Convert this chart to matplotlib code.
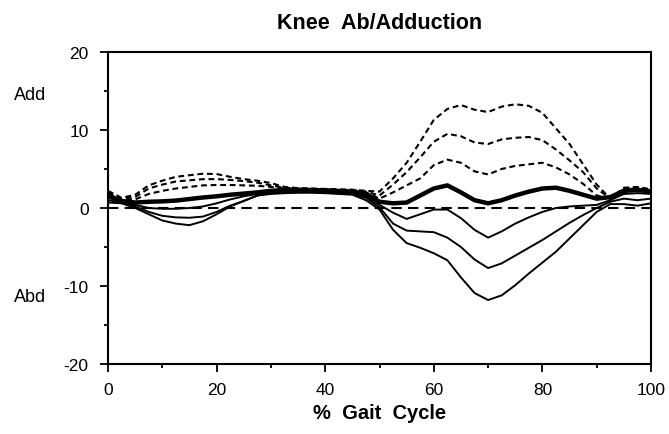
import matplotlib
matplotlib.use("Agg")
import matplotlib.pyplot as plt
from matplotlib.ticker import MultipleLocator

# % of gait cycle
gait_pct = [0, 2.5, 5, 7.5, 10, 12.5, 15, 17.5, 20, 22.5, 25, 27.5, 30, 32.5, 35,
            37.5, 40, 42.5, 45, 47.5, 50, 52.5, 55, 57.5, 60, 62.5, 65, 67.5, 70,
            72.5, 75, 77.5, 80, 82.5, 85, 87.5, 90, 92.5, 95, 97.5, 100]

# knee ab/adduction angle (deg), group mean
mean_curve = [1.6, 0.9, 0.7, 0.8, 0.85, 0.95, 1.15, 1.35, 1.5, 1.7, 1.85, 2.0, 2.2, 2.3, 2.3,
              2.3, 2.25, 2.15, 2.05, 1.8, 0.8, 0.6, 0.7, 1.6, 2.5, 2.9, 2.0, 1.0, 0.6,
              1.0, 1.6, 2.1, 2.5, 2.6, 2.2, 1.7, 1.2, 1.4, 2.2, 2.3, 2.1]

# upper bands: +1, +2, +3 SD
plus_1sd = [1.8, 1.1, 1.1, 1.8, 2.2, 2.5, 2.7, 2.9, 2.95, 2.95, 2.9, 2.85, 2.7, 2.5, 2.45,
            2.4, 2.35, 2.3, 2.2, 2.0, 1.2, 2.0, 2.9, 3.8, 5.5, 6.2, 5.8, 4.7, 4.3,
            5.0, 5.4, 5.6, 5.8, 5.2, 4.3, 3.1, 1.6, 1.2, 2.4, 2.5, 2.2]
plus_2sd = [2.0, 1.2, 1.4, 2.5, 3.0, 3.4, 3.55, 3.7, 3.7, 3.6, 3.45, 3.25, 2.9, 2.6, 2.5,
            2.45, 2.4, 2.35, 2.3, 2.1, 1.6, 3.0, 4.6, 6.5, 8.5, 9.5, 9.2, 8.4, 8.2,
            8.8, 9.0, 9.1, 8.7, 7.5, 6.1, 4.6, 2.5, 1.2, 2.5, 2.6, 2.3]
plus_3sd = [2.2, 1.3, 1.7, 2.9, 3.5, 4.0, 4.2, 4.4, 4.35, 4.0, 3.7, 3.5, 3.2, 2.7, 2.55,
            2.5, 2.45, 2.4, 2.35, 2.2, 2.1, 3.8, 5.8, 8.5, 11.3, 12.7, 13.2, 12.6, 12.3,
            13.0, 13.3, 13.1, 12.2, 10.2, 8.2, 5.6, 3.0, 1.2, 2.6, 2.7, 2.4]

# lower bands: -1, -2, -3 SD
minus_1sd = [1.3, 0.8, 0.4, 0.0, -0.1, -0.1, 0.0, 0.2, 0.6, 1.1, 1.5, 1.8, 2.0, 2.1, 2.15,
             2.15, 2.1, 2.0, 1.9, 1.5, 0.4, -0.6, -1.4, -0.8, -0.2, -0.2, -1.3, -2.8, -3.8,
             -3.0, -2.0, -1.2, -0.5, 0.0, 0.2, 0.3, 0.4, 1.0, 1.8, 1.9, 1.8]
minus_2sd = [1.0, 0.7, 0.2, -0.5, -1.0, -1.2, -1.25, -1.1, -0.5, 0.3, 0.9, 1.6, 1.9, 2.0, 2.05,
             2.05, 2.0, 1.9, 1.8, 1.3, 0.1, -2.0, -2.9, -3.0, -3.1, -3.8, -5.0, -6.6, -7.7,
             -7.1, -6.1, -5.1, -4.1, -3.0, -1.9, -0.9, 0.0, 0.8, 1.2, 1.0, 1.2]
minus_3sd = [0.7, 0.6, 0.0, -0.8, -1.6, -2.0, -2.2, -1.7, -0.8, 0.2, 0.9, 1.6, 1.8, 1.9, 1.95,
             1.95, 1.9, 1.8, 1.7, 1.0, -0.2, -2.8, -4.5, -5.1, -5.8, -6.7, -8.9, -10.9, -11.8,
             -11.2, -9.9, -8.4, -7.0, -5.6, -3.9, -2.2, -0.5, 0.5, 0.5, 0.3, 0.6]

x_ticks = [0, 20, 40, 60, 80, 100]
y_ticks = [-20, -10, 0, 10, 20]

plt.rcParams["font.family"] = ["Liberation Sans", "DejaVu Sans"]
plt.rcParams["axes.unicode_minus"] = False

fig = plt.figure(figsize=(6.69, 4.35), dpi=100)
ax = fig.add_axes([108 / 669, 1 - 365 / 435, (651 - 108) / 669, (365 - 53) / 435])

# zero reference
ax.plot([0, 100], [0, 0], color="black", lw=1.5, dashes=(5, 3))

dash_style = dict(color="black", lw=1.5, dashes=(2.8, 1.8), solid_joinstyle="round")
for band in (plus_1sd, plus_2sd, plus_3sd):
    ax.plot(gait_pct, band, **dash_style)
for band in (minus_1sd, minus_2sd, minus_3sd):
    ax.plot(gait_pct, band, color="black", lw=1.4, solid_joinstyle="round")
ax.plot(gait_pct, mean_curve, color="black", lw=3.2, solid_joinstyle="round",
        solid_capstyle="round")

ax.set_xlim(0, 100)
ax.set_ylim(-20, 20)
ax.set_xticks(x_ticks)
ax.set_yticks(y_ticks)
ax.xaxis.set_minor_locator(MultipleLocator(10))
ax.yaxis.set_minor_locator(MultipleLocator(5))
ax.tick_params(which="major", direction="out", length=6, width=1.3, labelsize=12.5,
               color="black")
ax.tick_params(axis="y", which="major", pad=8)
ax.tick_params(axis="x", which="major", pad=7)
ax.tick_params(which="minor", direction="out", length=3, width=1.3)
for spine in ax.spines.values():
    spine.set_linewidth(1.5)

ax.set_title("Knee  Ab/Adduction", fontsize=15.5, fontweight="bold", pad=17)
ax.set_xlabel("%  Gait  Cycle", fontsize=14.5, fontweight="bold", labelpad=4)

fig.text(14 / 669, 1 - 95 / 435, "Add", fontsize=13, va="center", ha="left")
fig.text(14 / 669, 1 - 298 / 435, "Abd", fontsize=13, va="center", ha="left")

fig.savefig("out.png", dpi=100)
